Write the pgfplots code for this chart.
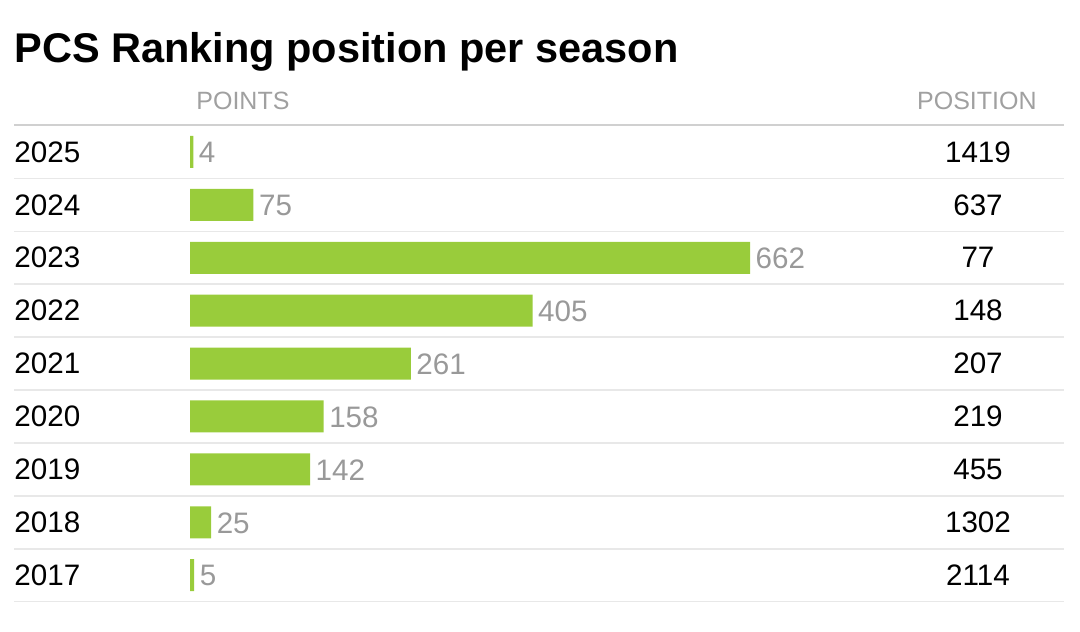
\documentclass[border=0pt]{standalone}
\usepackage{fontspec}
\setmainfont{Liberation Sans}
\usepackage{pgfplots}
\pgfplotsset{compat=1.18}
\definecolor{bargreen}{RGB}{153,204,59}
\definecolor{lbl}{RGB}{153,153,153}
\definecolor{hdr}{RGB}{160,160,160}
\definecolor{sep}{RGB}{232,232,232}
\definecolor{hsep}{RGB}{208,208,208}
\pgfplotstableread{
x y lab
-208.04 2025 2025
-208.04 2024 2024
-208.04 2023 2023
-208.04 2022 2022
-208.04 2021 2021
-208.04 2020 2020
-208.04 2019 2019
-208.04 2018 2018
-208.04 2017 2017
}\years
\pgfplotstableread{
x y pos
931.4 2025 1419
931.4 2024 637
931.4 2023 77
931.4 2022 148
931.4 2021 207
931.4 2020 219
931.4 2019 455
931.4 2018 1302
931.4 2017 2114
}\positions
\begin{document}
\begin{tikzpicture}
\begin{axis}[
  at={(0,0)}, anchor=south west,
  scale only axis, width=540pt, height=315.5pt,
  xmin=-224.6, xmax=1052.0, ymin=2015.945, ymax=2027.873,
  hide axis, clip=false,
  /pgf/number format/assume math mode=true,
]
\pgfplotsinvokeforeach{2016,...,2024}{
  \draw[sep, line width=0.8pt] (axis cs:-208.04,#1.5) -- (axis cs:1033.1,#1.5);
}
\draw[hsep, line width=1pt] (axis cs:-208.04,2025.51) -- (axis cs:1033.1,2025.51);
\addplot[xbar, bar width=16pt, fill=bargreen, draw=none,
  nodes near coords,
  nodes near coords style={lbl, anchor=west, inner sep=0pt, xshift=2.6pt, yshift=-0.3pt, font=\fontsize{14.8pt}{16pt}\selectfont}]
  coordinates {(4,2025) (75,2024) (662,2023) (405,2022) (261,2021) (158,2020) (142,2019) (25,2018) (5,2017)};
\addplot[draw=none, mark=none, nodes near coords, point meta=explicit symbolic,
  nodes near coords style={black, anchor=west, inner sep=0pt, font=\fontsize{14.8pt}{16pt}\selectfont}]
  table[x=x, y=y, meta=lab] {\years};
\addplot[draw=none, mark=none, nodes near coords, point meta=explicit symbolic,
  nodes near coords style={black, anchor=center, inner sep=0pt, font=\fontsize{14.8pt}{16pt}\selectfont}]
  table[x=x, y=y, meta=pos] {\positions};
\node[anchor=base west, inner sep=0pt, font=\fontsize{20.75pt}{24pt}\selectfont\bfseries] at (axis cs:-208.04,2026.682) {PCS Ranking position per season};
\node[anchor=base west, inner sep=0pt, hdr, font=\fontsize{12.5pt}{14pt}\selectfont] at (axis cs:7.09,2025.794) {POINTS};
\node[anchor=base east, inner sep=0pt, hdr, font=\fontsize{12.5pt}{14pt}\selectfont] at (axis cs:1001.2,2025.794) {POSITION};
\end{axis}
\pgfresetboundingbox
\useasboundingbox (0,0) rectangle (540pt,315.5pt);
\end{tikzpicture}
\end{document}
